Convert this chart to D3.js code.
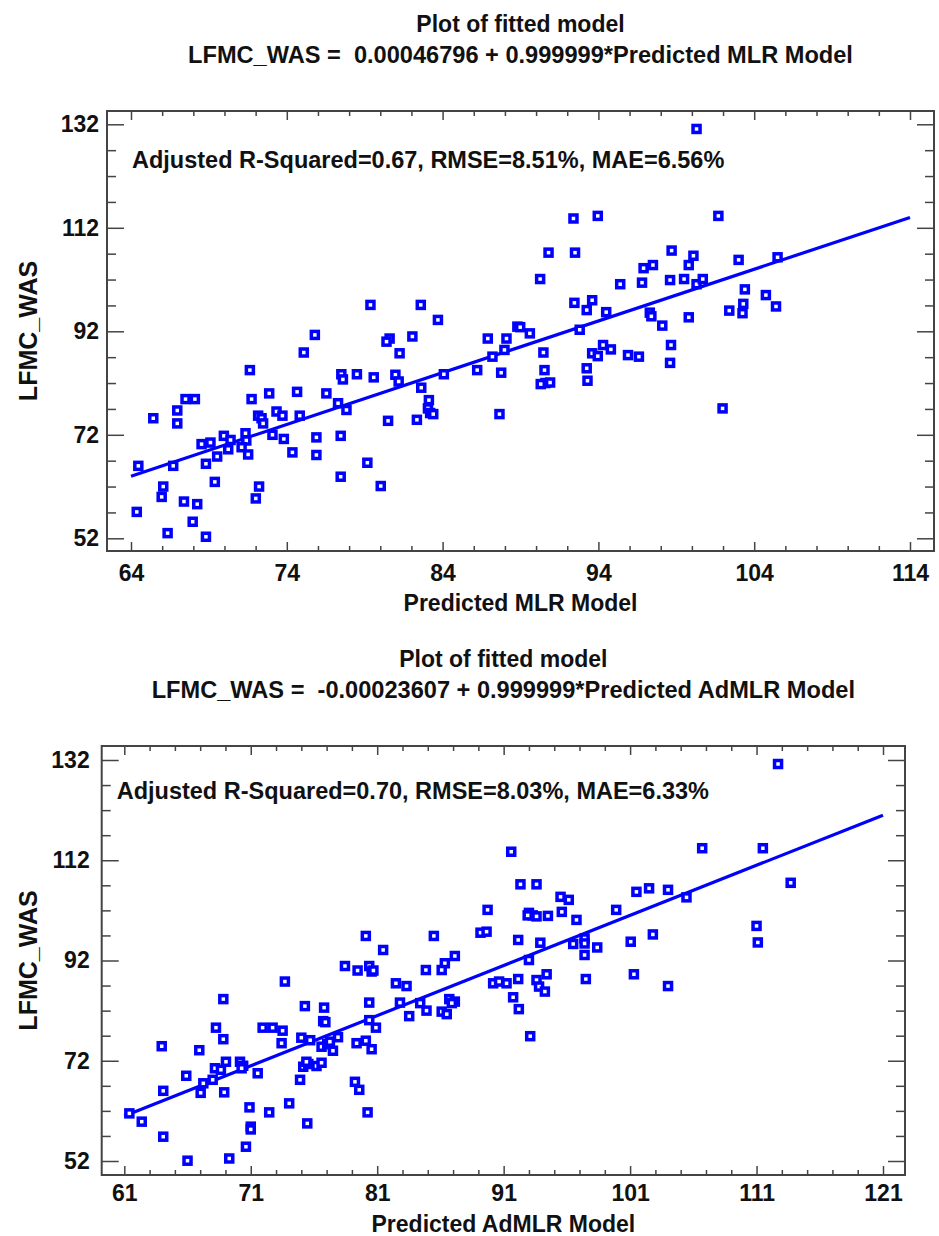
<!DOCTYPE html>
<html>
<head>
<meta charset="utf-8">
<script src="https://cdn.jsdelivr.net/npm/d3@7"></script>
<style>
  body { margin: 0; background: #fff; }
  svg text { font-family: "Liberation Sans", Arial, sans-serif; font-weight: bold; fill: #111; }
</style>
</head>
<body>
<div id="chart"></div>
<script>
// top panel: predicted MLR vs observed LFMC_WAS
var mlrPred = [79.37,82.6,83.7,75.8,80.6,80.4,82.06,86.9,88.1,88.8,81.24,75.09,87.97,87.2,71.63,78.5,77.5,77.6,79.58,80.97,
  81.18,84.08,86.22,87.76,82.63,83.12,83.06,83.2,83.4,87.65,80.5,82.35,74.66,76.54,77.29,77.83,74.83,72.87,71.74,72.16,
  72.38,72.48,73.34,73.72,73.08,73.81,74.36,75.9,75.9,77.46,77.46,79.17,80.03,71.35,71.4,71.1,71.52,69.96,70.39,70.24,
  69.53,69.1,68.53,68.81,69.38,67.5,68.1,66.97,66.97,65.43,64.47,66.71,66.07,65.97,64.37,67.4,68.25,67.96,66.35,68.81,
  72.22,72.01,100.3,92.4,93.96,101.7,90.8,92.5,98.7,100.1,103.0,105.5,90.26,96.9,97.5,99.8,95.4,96.8,98.6,99.5,
  100.3,100.7,103.4,104.75,105.4,92.46,93.25,93.6,94.5,97.3,97.4,98.1,99.8,102.4,103.3,103.25,88.98,89.6,92.8,90.47,
  90.54,90.6,90.3,90.9,93.25,93.3,93.6,93.96,94.3,94.8,95.9,96.6,98.66,98.6,101.97];
var mlrObs = [97.1,97.1,94.2,91.3,90.6,90.0,91.0,90.6,90.6,92.9,87.75,87.9,88.4,87.1,84.5,83.7,83.7,82.7,83.1,83.6,
  82.3,83.7,84.5,84.0,81.1,78.7,77.1,76.2,76.0,76.0,74.7,74.9,80.3,80.0,78.1,76.8,75.7,80.0,78.9,75.7,
  75.2,74.2,76.5,75.7,72.0,71.2,68.6,71.5,68.1,71.8,63.9,66.6,62.1,72.3,70.9,69.6,68.2,71.8,71.0,69.2,
  67.8,70.5,70.2,66.4,62.9,78.9,78.9,76.7,74.2,75.2,66.0,66.0,62.0,60.0,57.1,59.1,58.6,55.2,53.0,52.3,
  62.0,59.7,131.1,113.8,114.3,114.3,107.2,107.2,107.6,106.6,105.8,106.3,102.1,104.2,104.8,104.8,101.1,101.4,101.9,102.1,
  101.1,102.1,100.1,99.0,96.8,97.5,96.1,98.0,95.7,95.6,94.9,93.1,94.7,96.0,97.3,95.5,92.8,91.6,92.3,87.9,
  84.5,82.0,81.8,82.1,84.85,82.45,87.75,87.2,89.35,88.5,87.4,87.1,89.35,85.9,77.1];

// bottom panel: predicted AdMLR vs observed LFMC_WAS
var admlrPred = [80.1,81.47,85.48,89.73,89.17,89.65,87.14,91.6,112.7,106.7,111.5,92.33,93.6,113.7,95.5,96.15,93.0,93.3,93.6,92.9,
  94.5,95.6,96.76,99.9,101.5,102.5,104.0,105.46,111.0,111.1,92.15,93.9,96.5,97.4,97.4,98.4,97.4,101.05,102.8,93.0,
  90.17,90.64,91.23,92.15,93.6,93.8,94.4,94.26,91.75,92.2,93.1,97.5,101.3,104.0,86.35,86.1,84.85,78.45,79.45,80.37,
  80.56,80.7,82.48,83.32,73.7,68.83,80.37,75.28,76.8,76.73,76.9,82.8,83.53,84.4,84.9,86.1,86.5,86.7,87.14,86.9,
  71.94,72.73,73.52,73.44,68.25,68.83,63.96,66.93,69.04,68.17,68.64,67.99,67.25,70.15,70.4,70.28,71.55,65.9,64.08,67.04,
  68.9,61.4,62.38,64.08,66.0,69.3,70.9,71.0,71.0,70.62,72.46,74.04,75.47,74.9,75.15,75.55,76.2,76.6,75.4,75.0,
  75.7,76.6,77.05,77.5,77.9,77.26,79.37,80.1,80.56,80.9,80.37,79.24,79.58,80.24];
var admlrObs = [96.9,94.1,96.9,102.1,97.55,97.75,92.9,113.7,131.2,114.4,114.4,107.2,107.2,107.5,104.7,104.1,101.5,101.0,100.8,101.0,
  100.9,101.7,100.1,102.1,105.7,106.4,106.1,104.6,98.9,95.6,96.1,95.55,95.3,96.4,95.4,94.6,93.1,95.75,97.2,92.1,
  87.45,87.8,87.45,88.3,88.1,86.8,89.25,85.8,84.66,82.3,76.9,88.3,89.25,86.9,91.45,90.1,90.1,90.9,90.0,90.9,
  89.8,90.0,87.45,86.9,87.8,84.3,83.6,82.9,82.6,79.9,79.7,83.6,80.9,83.5,82.0,81.8,81.3,84.3,83.8,83.5,
  78.6,78.6,78.0,75.5,78.6,76.3,74.9,74.1,71.8,70.5,70.2,68.2,67.5,71.8,71.0,70.5,69.5,69.0,66.0,65.6,
  65.7,61.5,59.85,56.85,52.06,52.5,62.7,58.85,58.3,54.85,61.7,63.5,59.5,68.2,70.8,71.35,70.95,71.6,71.8,76.6,
  76.1,74.8,75.3,74.0,76.7,75.8,75.5,76.0,74.3,78.6,80.1,67.8,66.2,61.7];

var mlrXTicks = [64, 74, 84, 94, 104, 114];
var admlrXTicks = [61, 71, 81, 91, 101, 111, 121];
var yTicks = [52, 72, 92, 112, 132];

var svg = d3.select("#chart").append("svg").attr("width", 939).attr("height", 1236);
svg.append("rect").attr("width", 939).attr("height", 1236).attr("fill", "#fff");

function drawPanel(p) {
    var g = svg.append("g");
    var x = d3.scaleLinear().domain([p.xTicks[0], p.xTicks[p.xTicks.length - 1]]).range(p.xRange);
    var y = d3.scaleLinear().domain([52, 132]).range(p.yRange);

    var xMinor = d3.range(p.xTicks[0], p.xTicks[p.xTicks.length - 1] + 0.1, 2).filter(function(v) { return p.xTicks.indexOf(v) < 0; });
    var yMinor = d3.range(52, 133, 5).filter(function(v) { return yTicks.indexOf(v) < 0; });

    // ticks on all four sides, pointing inward
    function ticks(axis, tx, ty) {
        var a = g.append("g").attr("transform", "translate(" + tx + "," + ty + ")").call(axis);
        a.select(".domain").remove();
        a.selectAll("line").attr("stroke", "#444").attr("stroke-width", 1.5);
        return a;
    }
    ticks(d3.axisBottom(x).tickValues(p.xTicks).tickSizeInner(-9).tickSizeOuter(0).tickPadding(p.xPad).tickFormat(d3.format("d")), 0, p.box[3])
        .selectAll("text").attr("font-size", "23px").attr("fill", "#111");
    ticks(d3.axisBottom(x).tickValues(xMinor).tickSize(-5).tickFormat(""), 0, p.box[3]);
    ticks(d3.axisTop(x).tickValues(p.xTicks).tickSize(-9).tickFormat(""), 0, p.box[1]);
    ticks(d3.axisTop(x).tickValues(xMinor).tickSize(-5).tickFormat(""), 0, p.box[1]);
    ticks(d3.axisLeft(y).tickValues(yTicks).tickSizeInner(-17).tickSizeOuter(0).tickPadding(p.yPad).tickFormat(d3.format("d")), p.box[0], 0)
        .selectAll("text").attr("font-size", "23px").attr("fill", "#111");
    ticks(d3.axisLeft(y).tickValues(yMinor).tickSize(-9).tickFormat(""), p.box[0], 0);
    ticks(d3.axisRight(y).tickValues(yTicks).tickSize(-17).tickFormat(""), p.box[2], 0);
    ticks(d3.axisRight(y).tickValues(yMinor).tickSize(-9).tickFormat(""), p.box[2], 0);

    g.append("rect")
        .attr("x", p.box[0]).attr("y", p.box[1])
        .attr("width", p.box[2] - p.box[0]).attr("height", p.box[3] - p.box[1])
        .attr("fill", "none").attr("stroke", "#444").attr("stroke-width", 2);

    // fitted line (intercept ~0, slope ~1)
    var xd = x.domain();
    g.append("path")
        .datum([xd[0], xd[1]])
        .attr("fill", "none")
        .attr("stroke", "#0000ff")
        .attr("stroke-width", 3.2)
        .attr("d", d3.line()
            .x(function(d) { return x(d); })
            .y(function(d) { return y(p.b0 + p.b1 * d); }));

    // points
    g.append("g")
        .selectAll("rect")
        .data(p.pred)
        .enter()
        .append("rect")
        .attr("x", function(d) { return x(d) - 3.5; })
        .attr("y", function(d, i) { return y(p.obs[i]) - 3.5; })
        .attr("width", 7).attr("height", 7)
        .attr("fill", "#fff")
        .attr("stroke", "#0000ff")
        .attr("stroke-width", 3.5);

    var cx = (p.box[0] + p.box[2]) / 2;
    g.append("text").attr("x", cx).attr("y", p.box[1] - 79).attr("text-anchor", "middle")
        .attr("font-size", "23px").text("Plot of fitted model");
    g.append("text").attr("x", cx).attr("y", p.box[1] - 48).attr("text-anchor", "middle")
        .attr("font-size", "23.6px").attr("xml:space", "preserve").text(p.equation);
    g.append("text").attr("x", p.box[0] + p.statDx).attr("y", p.box[1] + p.statDy)
        .attr("font-size", "23.5px").text(p.stats);
    g.append("text").attr("x", cx).attr("y", p.xLabelY).attr("text-anchor", "middle")
        .attr("font-size", "23px").text(p.xLabel);
    g.append("text")
        .attr("transform", "translate(" + 37 + "," + (p.box[1] + p.box[3]) / 2 + ") rotate(-90)")
        .attr("text-anchor", "middle")
        .attr("font-size", "25px").text("LFMC_WAS");
}

drawPanel({
    pred: mlrPred, obs: mlrObs, xTicks: mlrXTicks,
    box: [107, 111, 934, 551], xRange: [131, 910], yRange: [538.3, 124.3], yPad: 8, xPad: 14,
    b0: 0.00046796, b1: 0.999999,
    equation: "LFMC_WAS =  0.00046796 + 0.999999*Predicted MLR Model",
    stats: "Adjusted R-Squared=0.67, RMSE=8.51%, MAE=6.56%", statDx: 25, statDy: 57,
    xLabel: "Predicted MLR Model", xLabelY: 611
});

drawPanel({
    pred: admlrPred, obs: admlrObs, xTicks: admlrXTicks,
    box: [101.7, 746, 905, 1175], xRange: [124.3, 883], yRange: [1161, 760], yPad: 12, xPad: 10,
    b0: -0.00023607, b1: 0.999999,
    equation: "LFMC_WAS =  -0.00023607 + 0.999999*Predicted AdMLR Model",
    stats: "Adjusted R-Squared=0.70, RMSE=8.03%, MAE=6.33%", statDx: 15, statDy: 53,
    xLabel: "Predicted AdMLR Model", xLabelY: 1232
});
</script>
</body>
</html>
